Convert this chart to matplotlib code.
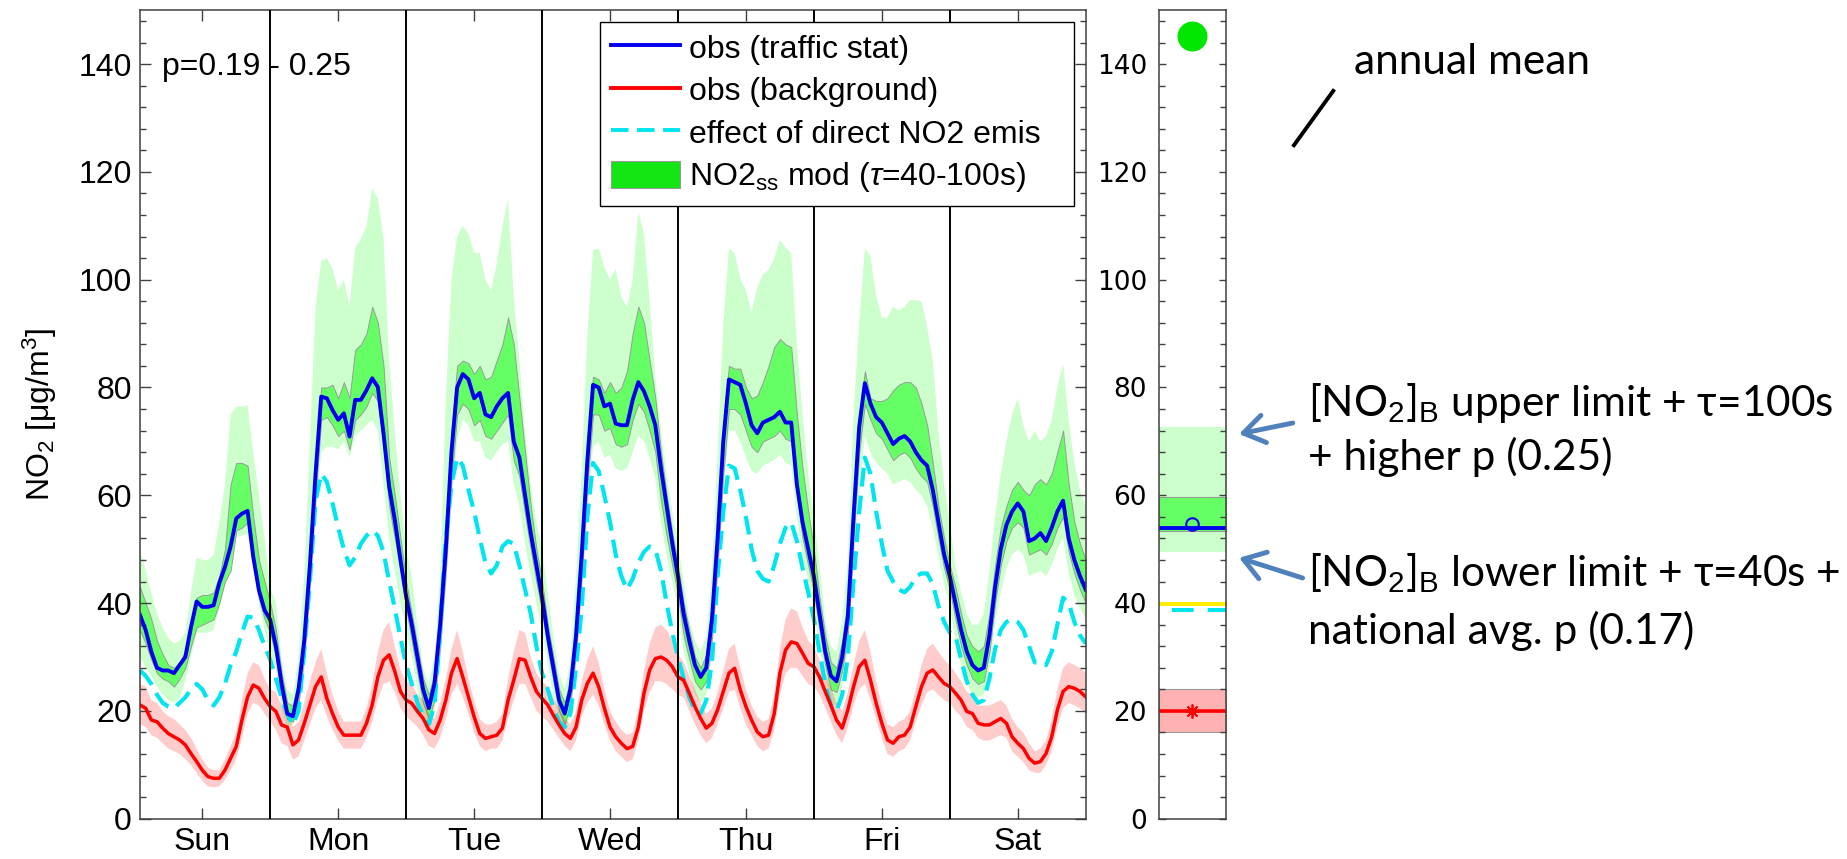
import numpy as np
import matplotlib
matplotlib.use('Agg')
import matplotlib.pyplot as plt
from matplotlib.lines import Line2D
from matplotlib.patches import Patch, FancyArrowPatch
from matplotlib.ticker import MultipleLocator

plt.rcParams['font.family'] = ['Liberation Sans', 'DejaVu Sans']
plt.rcParams['mathtext.fontset'] = 'custom'
plt.rcParams['mathtext.rm'] = 'Liberation Sans'
plt.rcParams['mathtext.it'] = 'Liberation Sans:italic'

days = ['Sun', 'Mon', 'Tue', 'Wed', 'Thu', 'Fri', 'Sat']
hours = np.arange(1, 169)

# obs (traffic stat), hourly, one list per day
traffic_sun = [37.8, 35, 31, 28, 27.5, 27.5, 27, 28.5, 30, 35.5, 40.3, 39.3, 39.3, 39.6, 43.7, 46.7, 50.5, 55.7, 56.6, 57.1, 48.6, 42.4, 38.7, 36.9]
traffic_mon = [32, 25, 19.5, 19, 24, 33, 47, 64, 78.3, 78, 75.8, 74, 75.2, 70.9, 77.7, 77.7, 79.5, 81.7, 80.1, 71.5, 61.6, 55.4, 48, 41.2]
traffic_tue = [36, 30, 24, 20.5, 25, 36, 50, 68, 80, 82.5, 81.5, 78, 79, 75, 74.5, 76.5, 78, 79, 70, 67, 60, 53, 47, 41]
traffic_wed = [34, 28, 22, 19.5, 24, 34, 49, 66.5, 80.5, 80, 76.5, 77, 73.3, 73, 73, 77.7, 81, 79.3, 76.5, 73, 65, 58, 51, 45]
traffic_thu = [38, 33, 28.5, 26.3, 28, 37, 52, 70, 81.5, 81, 80.5, 77, 73, 71.5, 73.5, 74, 74.5, 75.5, 73.5, 73.5, 62, 55, 50, 45]
traffic_fri = [38, 31, 26.5, 25.5, 30, 37.5, 56, 72.7, 80.8, 77, 74.5, 73.5, 71.5, 69.5, 70.5, 71, 70, 68, 66.5, 65.5, 61, 55, 49, 45]
traffic_sat = [40, 35, 31, 28.5, 27.5, 28, 34, 43, 50, 54.5, 57, 58.5, 57, 51.5, 52, 53, 51.5, 54, 57, 59, 52, 48, 45, 42.5]

# obs (background)
bg_sun = [21.1, 20.5, 18.3, 18, 16.8, 15.8, 15.2, 14.6, 13.7, 12.1, 10.6, 9, 7.8, 7.5, 7.5, 9, 11.2, 13.4, 18.3, 22.6, 24.8, 24.2, 22.3, 20.8]
bg_mon = [19.9, 17.4, 17, 13.7, 14.6, 17.7, 21.1, 24.5, 26.3, 22.3, 19.5, 17, 15.5, 15.5, 15.5, 15.5, 17.7, 21.1, 26.3, 29.4, 30.4, 27.3, 23.6, 22]
bg_tue = [21.4, 19.9, 18.6, 16.5, 15.8, 18.3, 22, 27, 29.7, 26.3, 22.6, 18.9, 15.8, 14.9, 15.2, 15.5, 16.8, 22, 25.7, 29.7, 29.4, 26.3, 23.6, 22.3]
bg_wed = [21.1, 19.2, 17.4, 15.8, 14.9, 17, 22, 25.1, 27, 24.5, 20.5, 17, 15.2, 14, 13, 13.4, 17, 23.3, 27.6, 29.7, 30, 29.4, 28.2, 26.3]
bg_thu = [25.7, 23.3, 20.8, 18.6, 16.8, 17.7, 20.2, 23.6, 27, 27.9, 23.9, 20.8, 18.3, 16.1, 15.2, 15.5, 19.5, 27, 31.3, 32.8, 32.5, 30.7, 28.8, 28.2]
bg_fri = [26.3, 23.6, 21.1, 18.3, 16.8, 20.2, 24.5, 28.2, 29.4, 25.7, 21.4, 17.7, 14.6, 14, 15.2, 15.5, 17, 20.8, 24.5, 27, 27.6, 26.3, 25.1, 24.5]
bg_sat = [23.3, 22, 19.9, 19.5, 17.7, 17.4, 17.4, 18, 18.6, 17.7, 15.2, 14, 13, 11.2, 10.3, 10.6, 12.1, 15.2, 20.2, 23.6, 24.5, 24.2, 23.6, 22.6]

# background range (pink band)
bg_lo_sun = [17.5, 17, 15.5, 15, 14, 13, 12.5, 12, 11, 10, 8.5, 7, 6, 5.8, 6, 7.2, 9, 11, 15, 19.5, 21.5, 21, 19.5, 18]
bg_hi_sun = [25, 24.5, 22, 21.5, 20, 19, 18.5, 17.5, 16.5, 15, 13, 11, 9.5, 9, 9, 11, 13.5, 16, 22, 27, 29, 28.5, 26, 24]
bg_lo_mon = [16.5, 14, 13.5, 11, 11.5, 14.5, 17.5, 20.5, 22, 19, 16.5, 14.5, 13, 13, 13, 13, 15, 18, 22, 25, 25.5, 23.5, 20.5, 19]
bg_hi_mon = [23.5, 21, 20.5, 17, 18, 21.5, 25.5, 29, 31.5, 27, 23, 20, 18, 18, 18, 18, 20.5, 25, 31, 35, 36.5, 32, 27.5, 25.5]
bg_lo_tue = [18, 17, 15.5, 13.5, 13, 15, 18.5, 23, 25, 22.5, 19.5, 16, 13.5, 12.5, 13, 13, 14.5, 18.5, 22, 25, 25, 22.5, 20, 19]
bg_hi_tue = [25, 23, 22, 19.5, 18.5, 21.5, 26, 31.5, 35, 31, 26, 22, 18.5, 17.5, 17.5, 18, 19.5, 26, 31, 35, 34.5, 30, 27, 25.5]
bg_lo_wed = [18, 16.5, 15, 13.5, 12.5, 14.5, 19, 21.5, 23, 21, 17.5, 14.5, 12.5, 11.5, 10.5, 11, 14.5, 20, 23.5, 25.5, 25.5, 25, 24, 23]
bg_hi_wed = [24.5, 22.5, 20.5, 18.5, 17.5, 20, 25.5, 29.5, 32, 29, 24, 20, 18, 16.5, 15.5, 16, 20, 27.5, 32.5, 35.5, 36, 35, 33, 30.5]
bg_lo_thu = [22.5, 20, 17.5, 15.5, 14, 15, 17.5, 20.5, 23.5, 24, 20.5, 17.5, 15.5, 13.5, 12.5, 13, 16.5, 23, 27, 28, 28, 26.5, 25, 24.5]
bg_hi_thu = [29, 26.5, 24, 21.5, 19.5, 20.5, 23.5, 27.5, 31.5, 32.5, 28, 24, 21, 19, 18, 18.5, 23, 31.5, 37, 39, 38.5, 35.5, 33, 32]
bg_lo_fri = [23, 20.5, 18, 15.5, 14, 17, 21, 24, 25, 22, 18.5, 15, 12, 11.5, 12.5, 13, 14.5, 18, 21, 23.5, 24, 23, 22, 21.5]
bg_hi_fri = [29.5, 27, 24.5, 21.5, 20, 23.5, 28.5, 33, 35, 31, 25.5, 21, 17.5, 17, 18, 18.5, 20, 24, 28.5, 31.5, 32.5, 31, 29.5, 28.5]
bg_lo_sat = [20, 19, 17, 16.5, 15, 14.5, 14.5, 15, 15.5, 15, 12.5, 11.5, 10.5, 9, 8.5, 8.5, 10, 12.5, 17, 20.5, 21.5, 21, 20.5, 19.5]
bg_hi_sat = [27, 25.5, 23.5, 23, 21, 21, 21, 21.5, 22, 21, 18.5, 17, 16, 14, 12.5, 13, 14.5, 18.5, 24, 28, 29, 28.5, 28, 27]

# effect of direct NO2 emis
direct_sun = [27.5, 26.5, 25, 23, 21.5, 20.8, 20.5, 21.5, 22.5, 24, 25, 24, 22, 21, 22.5, 25, 28.5, 31, 34.5, 37.5, 37.3, 35, 32, 29.5]
direct_mon = [26, 22.5, 19.5, 17.4, 20, 31, 44, 59, 64, 62.5, 58.5, 54, 50, 47, 48.5, 51, 52.5, 53.5, 52.5, 49.5, 44, 39, 33.5, 28.5]
direct_tue = [25, 21.5, 19, 17.5, 21, 35, 52, 62, 67, 65.5, 61, 57, 52, 47.5, 45.5, 47, 50.5, 51.5, 51, 47, 42.5, 38, 32, 27]
direct_wed = [24, 20.5, 18, 17, 19.5, 28, 39, 56, 66, 64.5, 60, 55, 49, 45, 42.5, 44.5, 47.5, 49.5, 50.5, 50, 46, 40, 34.5, 30]
direct_thu = [26, 22.5, 20, 19.5, 22, 29, 45, 57, 65.5, 65, 61, 56, 50, 46, 44.5, 44, 47, 51, 54, 55, 51.5, 46.5, 42, 37]
direct_fri = [31, 25, 21, 20, 23, 30, 44, 57, 67, 64, 57, 51, 46, 44, 42.5, 42, 43, 45, 45.5, 45.5, 43.5, 39.5, 36.5, 34.5]
direct_sat = [34, 29.5, 25.5, 23, 21.5, 22, 26, 31.5, 35, 36.5, 37, 36.5, 35, 32, 29, 29, 28.5, 31, 36, 41, 40, 36.5, 34, 32.5]

# NO2ss mod, tau 40-100s (dark band)
ss_lo_sun = [35, 32.5, 29.5, 27, 26, 25.5, 24.5, 26, 28, 32, 35.5, 36, 36.5, 37, 40, 44, 46, 53.5, 54, 55, 47, 41, 37, 34.5]
ss_hi_sun = [43, 40, 37, 33, 30.5, 28.5, 28, 29, 31, 36, 41, 41.5, 41.5, 42, 45, 50, 62, 66, 66, 65.5, 56, 48, 44, 40]
ss_lo_mon = [30, 23, 18.5, 18, 21.5, 30, 44, 60, 74, 74.5, 73, 71, 72, 68.5, 74, 75, 76.5, 79, 77.5, 69, 58, 52, 46, 39]
ss_hi_mon = [35, 27, 21.5, 21, 26, 35, 50, 67, 80, 80, 80.5, 78, 81, 78, 87, 88, 90, 95, 92, 84, 67, 60, 52, 44]
ss_lo_tue = [33, 27, 21.5, 18.5, 22, 32, 46, 63, 75, 77, 76, 73, 74, 71, 70.5, 72, 73.5, 75, 66.5, 63.5, 56.5, 50, 44, 38.5]
ss_hi_tue = [38, 32, 26, 23, 27, 39, 54, 72, 84, 85, 84.5, 82.5, 84, 81.5, 82, 85, 88, 93, 88, 78, 68, 58, 50, 44]
ss_lo_wed = [31.5, 25.5, 20, 17.5, 21.5, 31, 45, 62, 75, 75, 72, 72.5, 69.5, 69, 69.5, 74, 77, 75.5, 72, 68, 59, 52.5, 47, 41.5]
ss_hi_wed = [36, 30, 24, 21.5, 26, 37, 52, 70, 82, 81.5, 79, 81, 79, 80, 83, 90, 95, 92, 85, 78, 68, 60, 53, 47]
ss_lo_thu = [34, 29.5, 25.5, 24, 25.5, 33.5, 47, 64, 76, 76, 75, 72, 69, 68, 70, 70.5, 71, 72, 70.5, 70, 60, 52, 47, 42]
ss_hi_thu = [40, 35, 30, 28, 30.5, 40, 55, 73, 84, 83.5, 83.5, 80, 78, 78.5, 81, 84, 87.5, 89, 88, 87.5, 75, 65, 57, 50]
ss_lo_fri = [35, 28.5, 24, 23.5, 27.5, 34.5, 52, 68, 77, 74, 71.5, 70.5, 68.5, 66.5, 67.5, 68, 67, 65, 63.5, 62.5, 58, 52, 46.5, 42.5]
ss_hi_fri = [41, 34, 29, 28, 33, 41, 60, 75, 83, 78, 77.5, 77.5, 78, 79.5, 80.5, 81, 81, 80, 77, 73, 66, 58, 52, 47]
ss_lo_sat = [37, 32, 28.5, 26, 25, 25.5, 31, 40, 47, 51.5, 54, 55, 54, 49, 49.5, 50, 49, 51, 54, 56, 49.5, 45.5, 42.5, 40]
ss_hi_sat = [43, 38, 34, 32, 31, 32, 38, 47, 54, 58, 61, 62.5, 61, 60, 62, 63, 62, 64, 68, 72, 62, 55, 51, 48]

# full model range incl. background and p uncertainty (light band)
rng_lo_sun = [30, 28, 26.5, 24.5, 23, 22, 21.5, 22.5, 25.5, 30, 34.5, 34.5, 34.5, 35, 39, 44, 48, 52.3, 52.5, 52.9, 46.8, 40, 35, 30.7]
rng_hi_sun = [50, 46, 42, 38, 35.5, 33.5, 32.5, 33, 34.5, 42, 48.5, 48, 48, 49, 55, 62, 75, 76.4, 76.5, 76.7, 68, 60, 52, 43]
rng_lo_mon = [28, 20, 17, 17.5, 20, 27, 40, 55, 68, 69, 69, 68.5, 70, 67, 71, 72, 73, 74, 72, 62, 52, 46, 40, 35]
rng_hi_mon = [40, 30, 24, 23, 30, 45, 70, 95, 103.5, 104, 102, 98, 100, 95, 106, 107.5, 110, 117, 115, 108, 85, 72, 60, 50]
rng_lo_tue = [30, 24, 19.5, 17.5, 20, 29, 42, 58, 70, 74, 73, 70, 70, 67, 66.5, 68, 69.5, 70, 62, 58, 51, 45, 40, 35]
rng_hi_tue = [45, 36, 28, 25, 30, 45, 78, 100, 108, 110, 108.5, 105, 105, 100, 98, 103, 110, 115, 97, 85, 72, 62, 55, 50]
rng_lo_wed = [29, 23, 18.5, 16.5, 19, 28, 41, 56, 69, 70, 67, 67.5, 65, 64.5, 65, 68, 71, 70, 67, 63, 55, 49, 44, 39]
rng_hi_wed = [42, 34, 27, 24, 29, 45, 65, 90, 105.5, 105.8, 102.4, 100, 102, 96.8, 94.9, 100, 112.6, 108.5, 96, 82, 72, 64, 57, 51]
rng_lo_thu = [31, 27, 23, 21.5, 23, 30, 44, 60, 72, 72, 70, 67, 64.5, 64, 65.5, 66, 66.5, 67.5, 66, 65.5, 56, 49, 44, 39]
rng_hi_thu = [44, 37, 33, 31, 34, 46, 68, 92, 105.8, 104.9, 100.2, 98, 94, 98.5, 101, 101.8, 104, 107.4, 106, 104.9, 88, 75, 64, 56]
rng_lo_fri = [32, 26, 21.5, 21, 24.5, 31, 47, 60, 71, 68, 66, 65, 64, 62, 62.5, 63, 62.5, 61, 60, 58, 54, 48.5, 43.5, 39.5]
rng_hi_fri = [47, 37, 32, 31, 37, 48, 75, 92, 105.8, 104.3, 97, 93, 93, 95, 94.3, 95, 96.2, 96.2, 96, 91.3, 85, 72, 62, 55]
rng_lo_sat = [33, 28.5, 25, 23, 22.5, 23, 28, 36, 42, 46.5, 49, 50, 49, 45, 45.5, 46, 45, 47, 50, 52, 45.5, 41.5, 39, 37]
rng_hi_sat = [47, 42, 38, 36, 36, 38, 46, 56, 64, 70, 75, 78, 73, 70, 72, 70, 71, 74, 80, 84.5, 74, 66, 61, 58]

# annual means (right panel)
annual_point = 145.3
annual_rng = [49.5, 72.6]
annual_ss = [53.4, 59.7]
annual_traffic = 54.0
annual_mod = 54.6
annual_limit = 39.8
annual_direct = 38.8
annual_bg = 20.0
annual_bg_rng = [16.1, 24.0]


def week(*parts):
    return np.concatenate(parts)


traffic = week(traffic_sun, traffic_mon, traffic_tue, traffic_wed, traffic_thu, traffic_fri, traffic_sat)
background = week(bg_sun, bg_mon, bg_tue, bg_wed, bg_thu, bg_fri, bg_sat)
bg_lo = week(bg_lo_sun, bg_lo_mon, bg_lo_tue, bg_lo_wed, bg_lo_thu, bg_lo_fri, bg_lo_sat)
bg_hi = week(bg_hi_sun, bg_hi_mon, bg_hi_tue, bg_hi_wed, bg_hi_thu, bg_hi_fri, bg_hi_sat)
direct = week(direct_sun, direct_mon, direct_tue, direct_wed, direct_thu, direct_fri, direct_sat)
ss_lo = week(ss_lo_sun, ss_lo_mon, ss_lo_tue, ss_lo_wed, ss_lo_thu, ss_lo_fri, ss_lo_sat)
ss_hi = week(ss_hi_sun, ss_hi_mon, ss_hi_tue, ss_hi_wed, ss_hi_thu, ss_hi_fri, ss_hi_sat)
rng_lo = week(rng_lo_sun, rng_lo_mon, rng_lo_tue, rng_lo_wed, rng_lo_thu, rng_lo_fri, rng_lo_sat)
rng_hi = week(rng_hi_sun, rng_hi_mon, rng_hi_tue, rng_hi_wed, rng_hi_thu, rng_hi_fri, rng_hi_sat)

BLUE = '#0000ee'
RED = '#ff0000'
CYAN = '#00e5ee'
SPINE = '#404040'
W, H = 1847, 859

fig = plt.figure(figsize=(W / 100, H / 100), dpi=100)

# ---- main weekly panel
ax = fig.add_axes([140 / W, 1 - 818.7 / H, 945.7 / W, 808.5 / H])
ax.fill_between(hours, rng_lo, rng_hi, facecolor=(0, 1, 0, 0.2), lw=0)
ax.fill_between(hours, ss_lo, ss_hi, facecolor=(0, 1, 0, 0.5), edgecolor='#9a9a9a', lw=0.7)
ax.fill_between(hours, bg_lo, bg_hi, facecolor=(1, 0, 0, 0.2), lw=0)
ax.plot(hours, direct, color=CYAN, lw=3.0, dashes=(4.5, 2.2))
ax.plot(hours, background, color=RED, lw=2.5)
ax.plot(hours, traffic, color=BLUE, lw=2.8)
for d in range(1, 7):
    ax.axvline(24 * d, color='k', lw=1.4, zorder=5)

ax.set_xlim(1, 168)
ax.set_ylim(0, 150)
ax.set_xticks(np.arange(12, 168, 24))
ax.set_xticklabels(days)
ax.set_yticks(np.arange(0, 141, 20))
ax.yaxis.set_minor_locator(MultipleLocator(4))
ax.tick_params(which='major', direction='in', top=True, right=True, length=8,
               width=1, color=SPINE, labelsize=23)
ax.tick_params(axis='x', pad=6)
ax.tick_params(axis='y', pad=6)
ax.tick_params(which='minor', direction='in', left=True, right=True, length=4,
               width=1, color=SPINE)
for s in ax.spines.values():
    s.set_color(SPINE)
    s.set_linewidth(1.1)

ax.text(4.9, 139.5, 'p=0.19 - 0.25', fontsize=23, va='center')

handles = [
    Line2D([], [], color=BLUE, lw=2.8),
    Line2D([], [], color=RED, lw=2.8),
    Line2D([], [], color=CYAN, lw=2.8, dashes=(4.5, 2.2)),
    Patch(facecolor='#14e614', edgecolor='#9a9a9a', lw=0.8),
]
labels = ['obs (traffic stat)', 'obs (background)', 'effect of direct NO2 emis',
          r'NO2$_{\rm ss}$ mod ($\tau$=40-100s)']
leg = ax.legend(handles, labels, loc='upper left',
                bbox_to_anchor=(0.4864, 0.7529, 0.988 - 0.4864, 0.9858 - 0.7529),
                mode='expand', borderaxespad=0, fontsize=23, frameon=True,
                fancybox=False, edgecolor='k', framealpha=1, handlelength=2.15,
                handletextpad=0.28, labelspacing=0.34, borderpad=0.35,
                handleheight=0.94)
leg.get_frame().set_linewidth(1.0)
leg.set_zorder(10)

fig.text(40 / W, 1 - 414.5 / H, 'NO$_2$ [μg/m$^3$]', rotation=90,
         ha='center', va='center', fontsize=23)

# ---- annual mean panel
ax2 = fig.add_axes([1158.7 / W, 1 - 818.7 / H, 67 / W, 808.5 / H])
span = [0, 2]
ax2.fill_between(span, annual_rng[0], annual_rng[1], facecolor=(0, 1, 0, 0.2), lw=0)
ax2.fill_between(span, annual_ss[0], annual_ss[1], facecolor=(0, 1, 0, 0.5),
                 edgecolor='#9a9a9a', lw=0.8)
ax2.fill_between(span, annual_bg_rng[0], annual_bg_rng[1], facecolor=(1, 0, 0, 0.3),
                 edgecolor='#9a9a9a', lw=0.8)
ax2.plot(span, [annual_traffic] * 2, color=BLUE, lw=2.8)
ax2.plot([1], [annual_mod], 'o', mfc='none', mec=BLUE, ms=9, mew=1.5)
ax2.plot(span, [annual_limit] * 2, color='#ffee00', lw=2.8)
ax2.plot(span, [annual_direct] * 2, color=CYAN, lw=2.9, ls=(5.7, (5.4, 3.5)))
ax2.plot(span, [annual_bg] * 2, color=RED, lw=2.6)
ax2.plot([1], [annual_bg], marker=(8, 2, 0), color=RED, ms=10, mew=1.3)
ax2.plot([1], [annual_point], 'o', color='#00e600', ms=21.6, mec='none')
ax2.set_xlim(span)
ax2.set_ylim(0, 150)
ax2.set_xticks([])
ax2.set_yticks(np.arange(0, 141, 20))
ax2.yaxis.set_minor_locator(MultipleLocator(4))
ax2.tick_params(which='major', direction='in', left=True, right=True, length=5,
                width=1, color=SPINE, labelsize=19, pad=8.5)
ax2.tick_params(which='minor', direction='in', left=True, right=True, length=4,
                width=1, color=SPINE)
for t in ax2.get_yticklabels():
    t.set_fontfamily('DejaVu Sans')
for s in ax2.spines.values():
    s.set_color(SPINE)
    s.set_linewidth(1.1)

# ---- slide annotations
note_font = ['Lato', 'DejaVu Sans']
note_size = 30.5
fig.text(1354 / W, 1 - 74 / H, 'annual mean', fontfamily=note_font, fontsize=note_size, va='baseline')
fig.text(1307.5 / W, 1 - 416.4 / H, r'[NO$_2$]$_\mathrm{B}$ upper limit + τ=100s',
         fontfamily=note_font, fontsize=note_size, va='baseline')
fig.text(1307.5 / W, 1 - 470 / H, '+ higher p (0.25)', fontfamily=note_font,
         fontsize=note_size, va='baseline')
fig.text(1307.5 / W, 1 - 586 / H, r'[NO$_2$]$_\mathrm{B}$ lower limit + τ=40s +',
         fontfamily=note_font, fontsize=note_size, va='baseline')
fig.text(1307.5 / W, 1 - 643.8 / H, 'national avg. p (0.17)', fontfamily=note_font,
         fontsize=note_size, va='baseline')

fig.add_artist(Line2D([1292.8 / W, 1334.4 / W], [1 - 146.8 / H, 1 - 89.3 / H],
                      transform=fig.transFigure, color='k', lw=2.8,
                      solid_capstyle='butt'))
for tail, head in [((1292.8, 423), (1239, 434)), ((1302.6, 578), (1239, 557.8))]:
    arr = FancyArrowPatch((tail[0] / W, 1 - tail[1] / H), (head[0] / W, 1 - head[1] / H),
                          transform=fig.transFigure, color='#4f81bd', lw=3.5,
                          arrowstyle='->,head_length=0.75,head_width=0.5',
                          mutation_scale=20, shrinkA=0, shrinkB=0)
    fig.add_artist(arr)

fig.savefig('out.png', dpi=100)
